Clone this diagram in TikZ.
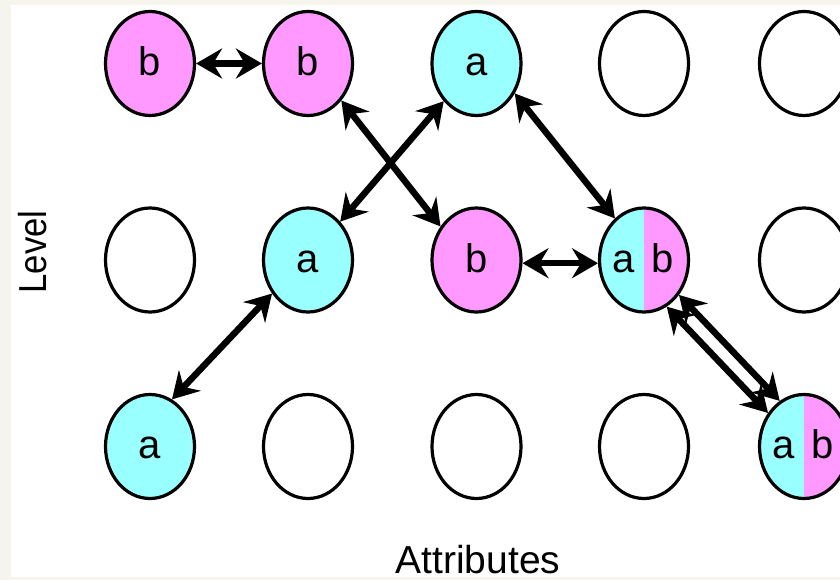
\documentclass[tikz,border=0pt]{standalone}
\usepackage{fontspec}
\setmainfont{Liberation Sans}
\usetikzlibrary{arrows.meta,shapes.geometric}
\definecolor{cy}{HTML}{99FFFF}
\definecolor{pk}{HTML}{FF99FF}
\definecolor{bgc}{HTML}{F5F5EE}
\begin{document}
\begin{tikzpicture}[x=1pt,y=-1pt,
  cell/.style={ellipse,draw,line width=3.2pt,fill=white,minimum width=89pt,minimum height=104pt,inner sep=0pt,
    font=\fontsize{40}{48}\selectfont,text height=24pt,text depth=0pt},
  cyc/.style={cell,fill=cy},
  pkc/.style={cell,fill=pk},
  split/.style={cell,path picture={
      \fill[cy] (path picture bounding box.south west) rectangle (path picture bounding box.north);
      \fill[pk] (path picture bounding box.south) rectangle (path picture bounding box.north east);}},
  lbl/.style={inner sep=0pt,font=\fontsize{40}{48}\selectfont,text height=24pt,text depth=0pt},
  axis/.style={inner sep=0pt,font=\fontsize{39}{47}\selectfont},
  tipx/.tip={Stealth[length=26pt,width=30pt,inset=9pt]},
  arr/.style={tipx-tipx,line width=6.5pt}]
\useasboundingbox (0,0) rectangle (840,580);
\clip (0,0) rectangle (840,580);
\fill[bgc] (0,0) rectangle (840,580);
\fill[white] (11,5) rectangle (840,577);
% top row
\node[pkc] (t1) at (150,63.5) {b};
\node[pkc] (t2) at (308,63.5) {b};
\node[cyc] (t3) at (476.5,63.5) {a};
\node[cell] (t4) at (644,63.5) {};
\node[cell] (t5) at (804,63.5) {};
% middle row
\node[cell] (m1) at (150,260) {};
\node[cyc] (m2) at (308,260) {a};
\node[pkc] (m3) at (476.5,260) {b};
\node[split] (m4) at (644,260) {};
\node[lbl] (m4a) at ([xshift=-20.5pt]m4.center) {a};
\node[lbl] (m4b) at ([xshift=18.5pt]m4.center) {b};
\node[cell] (m5) at (804,260) {};
% bottom row
\node[cyc] (b1) at (150,446.5) {a};
\node[cell] (b2) at (308,446.5) {};
\node[cell] (b3) at (476.5,446.5) {};
\node[cell] (b4) at (644,446.5) {};
\node[split] (b5) at (804,446.5) {};
\node[lbl] (b5a) at ([xshift=-20pt]b5.center) {a};
\node[lbl] (b5b) at ([xshift=19pt]b5.center) {b};
% connectors
\draw[arr] (t1) -- (t2);
\draw[arr] (t2.-48.5) -- (m3.137);
\draw[arr] (t3.-131.7) -- (m2.50);
\draw[arr] (t3.-38) -- (m4.125.8);
\draw[arr] (m3.-4) -- (m4.184);
\draw[arr] (m2.-137) -- (b1.65.6);
\draw[arr] (m4.-45.8) -- (b5.118);
\draw[arr] (m4.-64.4) -- (b5.137);
% axis labels
\node[axis,rotate=90] (lvl) at (33,252) {\scalebox{0.89}[1]{Level}};
\node[axis,anchor=base] (attr) at (478,573) {Attributes};
\end{tikzpicture}
\end{document}
